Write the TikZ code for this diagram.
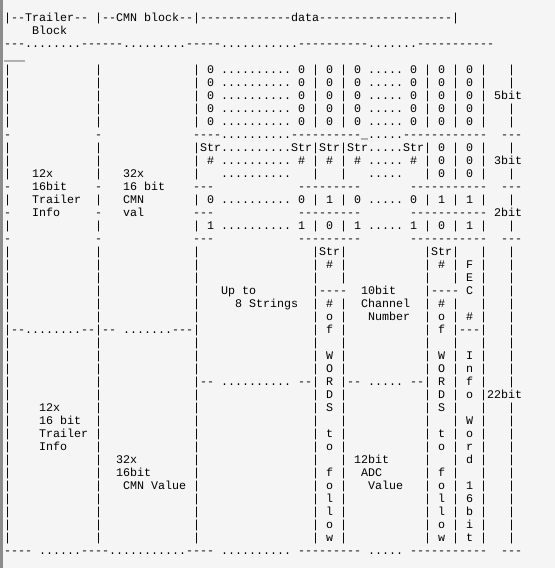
\documentclass[tikz,border=0pt]{standalone}
\usepackage{fontspec}
\setmonofont{Liberation Mono}
\usepackage{xcolor}
\definecolor{pagebg}{HTML}{F5F5F5}
\definecolor{edgebar}{HTML}{8C8C8C}
\newlength\colw
\setlength\colw{7bp}
\newcommand{\spc}[1]{\hspace*{#1\colw}}
\newcommand{\lcols}{|\spc{12}|\spc{13}|}
\tikzset{ascii/.style={anchor=base west, inner sep=0pt, text=black,
    font=\ttfamily\fontsize{11.665bp}{13bp}\selectfont}}

\begin{document}
\begin{tikzpicture}[x=7bp,y=-13bp]
        \useasboundingbox (0,0) rectangle (555bp,-568bp);
        \fill[pagebg] (0,0) rectangle (555bp,-568bp);
        \fill[edgebar] (0,0) rectangle (2.5bp,-568bp);
        \begin{scope}[xshift=4bp,yshift=-8.5bp]
        \node[ascii] (ln1) at (0,1) {|--Trailer--~|--CMN~block--|-------------data-------------------|};
        \node[ascii] (ln2) at (4,2) {Block};
        \node[ascii] (ln3) at (0,3) {---........------.........-----...........----------.......-----------};
        \node[ascii] (ln4) at (0,4) {\_\_\_};
        \node[ascii] (ln5) at (0,5) {\lcols~0~..........~0~|~0~|~0~.....~0~|~0~|~0~|~~~|};
        \node[ascii] (ln6) at (0,6) {\lcols~0~..........~0~|~0~|~0~.....~0~|~0~|~0~|~~~|};
        \node[ascii] (ln7) at (0,7) {\lcols~0~..........~0~|~0~|~0~.....~0~|~0~|~0~|~5bit};
        \node[ascii] (ln8) at (0,8) {\lcols~0~..........~0~|~0~|~0~.....~0~|~0~|~0~|~~~|};
        \node[ascii] (ln9) at (0,9) {\lcols~0~..........~0~|~0~|~0~.....~0~|~0~|~0~|~~~|};
        \node[ascii] (ln10) at (0,10) {-\spc{12}-\spc{13}----..........----------\_.....------------~~---};
        \node[ascii] (ln11) at (0,11) {\lcols Str..........Str|Str|Str.....Str|~0~|~0~|~~~|};
        \node[ascii] (ln12) at (0,12) {\lcols~\#~..........~\#~|~\#~|~\#~.....~\#~|~0~|~0~|~3bit};
        \node[ascii] (ln13) at (0,13) {|\spc{3}12x\spc{6}|\spc{3}32x\spc{7}|\spc{3}..........\spc{3}|\spc{3}|\spc{3}.....\spc{3}|~0~|~0~|~~~|};
        \node[ascii] (ln14) at (0,14) {-\spc{3}16bit\spc{4}-\spc{3}16~bit\spc{4}---\spc{12}---------\spc{7}-----------\spc{2}---};
        \node[ascii] (ln15) at (0,15) {|\spc{3}Trailer\spc{2}|\spc{3}CMN\spc{7}|~0~..........~0~|~1~|~0~.....~0~|~1~|~1~|~~~|};
        \node[ascii] (ln16) at (0,16) {-\spc{3}Info\spc{5}-\spc{3}val\spc{7}---\spc{12}---------\spc{7}-----------~2bit};
        \node[ascii] (ln17) at (0,17) {\lcols~1~..........~1~|~0~|~1~.....~1~|~0~|~1~|~~~|};
        \node[ascii] (ln18) at (0,18) {-\spc{12}-\spc{13}---\spc{12}---------\spc{7}-----------\spc{2}---};
        \node[ascii] (ln19) at (0,19) {\lcols\spc{16}|Str|\spc{11}|Str|\spc{3}|\spc{3}|};
        \node[ascii] (ln20) at (0,20) {\lcols\spc{16}|~\#~|\spc{11}|~\#~|~F~|\spc{3}|};
        \node[ascii] (ln21) at (0,21) {\lcols\spc{16}|\spc{3}|\spc{11}|\spc{3}|~E~|\spc{3}|};
        \node[ascii] (ln22) at (0,22) {\lcols\spc{3}Up~to\spc{8}|----\spc{2}10bit\spc{4}|----~C~|\spc{3}|};
        \node[ascii] (ln23) at (0,23) {\lcols\spc{5}8~Strings\spc{2}|~\#~|\spc{2}Channel\spc{2}|~\#~|\spc{3}|\spc{3}|};
        \node[ascii] (ln24) at (0,24) {\lcols\spc{16}|~o~|\spc{3}Number\spc{2}|~o~|~\#~|\spc{3}|};
        \node[ascii] (ln25) at (0,25) {|--........--|--~.......---|\spc{16}|~f~|\spc{11}|~f~|---|\spc{3}|};
        \node[ascii] (ln26) at (0,26) {\lcols\spc{16}|\spc{3}|\spc{11}|\spc{3}|\spc{3}|\spc{3}|};
        \node[ascii] (ln27) at (0,27) {\lcols\spc{16}|~W~|\spc{11}|~W~|~I~|\spc{3}|};
        \node[ascii] (ln28) at (0,28) {\lcols\spc{16}|~O~|\spc{11}|~O~|~n~|\spc{3}|};
        \node[ascii] (ln29) at (0,29) {\lcols--~..........~--|~R~|--~.....~--|~R~|~f~|\spc{3}|};
        \node[ascii] (ln30) at (0,30) {\lcols\spc{16}|~D~|\spc{11}|~D~|~o~|22bit};
        \node[ascii] (ln31) at (0,31) {|\spc{4}12x\spc{5}|\spc{13}|\spc{16}|~S~|\spc{11}|~S~|\spc{3}|\spc{3}|};
        \node[ascii] (ln32) at (0,32) {|\spc{4}16~bit\spc{2}|\spc{13}|\spc{16}|\spc{3}|\spc{11}|\spc{3}|~W~|\spc{3}|};
        \node[ascii] (ln33) at (0,33) {|\spc{4}Trailer~|\spc{13}|\spc{16}|~t~|\spc{11}|~t~|~o~|\spc{3}|};
        \node[ascii] (ln34) at (0,34) {|\spc{4}Info\spc{4}|\spc{13}|\spc{16}|~o~|\spc{11}|~o~|~r~|\spc{3}|};
        \node[ascii] (ln35) at (0,35) {|\spc{12}|\spc{2}32x\spc{8}|\spc{16}|\spc{3}|~12bit\spc{5}|\spc{3}|~d~|\spc{3}|};
        \node[ascii] (ln36) at (0,36) {|\spc{12}|\spc{2}16bit\spc{6}|\spc{16}|~f~|\spc{2}ADC\spc{6}|~f~|\spc{3}|\spc{3}|};
        \node[ascii] (ln37) at (0,37) {|\spc{12}|\spc{3}CMN~Value~|\spc{16}|~o~|\spc{3}Value\spc{3}|~o~|~1~|\spc{3}|};
        \node[ascii] (ln38) at (0,38) {\lcols\spc{16}|~l~|\spc{11}|~l~|~6~|\spc{3}|};
        \node[ascii] (ln39) at (0,39) {\lcols\spc{16}|~l~|\spc{11}|~l~|~b~|\spc{3}|};
        \node[ascii] (ln40) at (0,40) {\lcols\spc{16}|~o~|\spc{11}|~o~|~i~|\spc{3}|};
        \node[ascii] (ln41) at (0,41) {\lcols\spc{16}|~w~|\spc{11}|~w~|~t~|\spc{3}|};
        \node[ascii] (ln42) at (0,42) {----~......----...........----~..........~---------~.....~-----------~~---};
        \end{scope}
    \end{tikzpicture}
\end{document}
